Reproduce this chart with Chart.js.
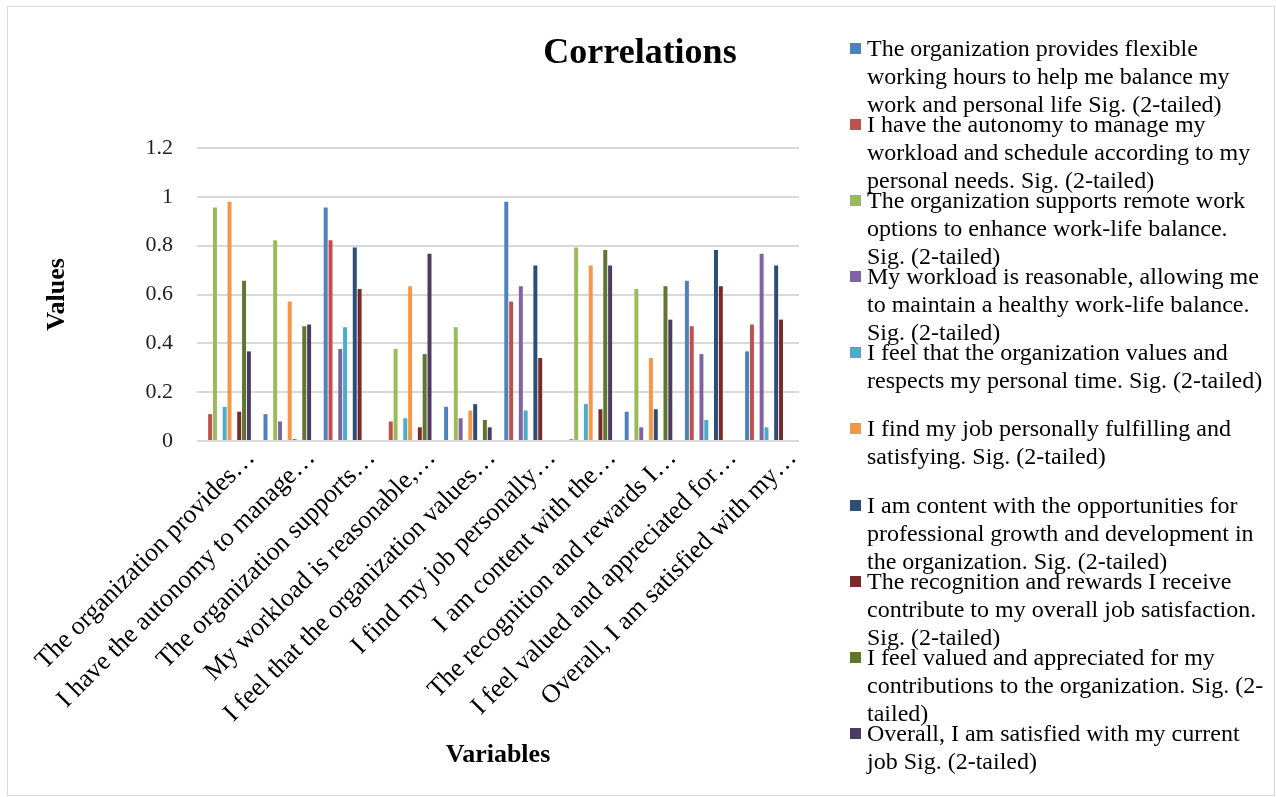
<!DOCTYPE html>
<html>
<head>
<meta charset="utf-8">
<script src="https://cdn.jsdelivr.net/npm/chart.js@4.4.1/dist/chart.umd.min.js"></script>
<style>
  html, body { margin: 0; padding: 0; background: #fff; }
  #wrap { position: relative; width: 1276px; height: 797px; overflow: hidden; }
  #frame { position: absolute; left: 7px; top: 6px; width: 1268px; height: 790px; border: 1px solid #d9d9d9; box-sizing: border-box; pointer-events: none; }
  #chart { position: absolute; left: 0; top: 0; }
  #legend { position: absolute; left: 850px; top: 34px; font-family: "Liberation Serif", "Times New Roman", serif; font-size: 24px; line-height: 28px; color: #000; }
  .item { position: relative; height: 76.1px; }
  .mk { position: absolute; left: 0; top: 9px; width: 11px; height: 11px; }
  .tx { position: absolute; left: 17px; top: 0; width: 400px; white-space: normal; }
</style>
</head>
<body>
<div id="wrap">
  <canvas id="chart" width="1276" height="797"></canvas>
  <div id="legend"></div>
  <div id="frame"></div>
</div>
<script>
// ---- data ----
const categories = [
  "The organization provides\u2026",
  "I have the autonomy to manage\u2026",
  "The organization supports\u2026",
  "My workload is reasonable,\u2026",
  "I feel that the organization values\u2026",
  "I find my job personally\u2026",
  "I am content with the\u2026",
  "The recognition and rewards I\u2026",
  "I feel valued and appreciated for\u2026",
  "Overall, I am satisfied with my\u2026"
];
const seriesNames = [
  "The organization provides flexible working hours to help me balance my work and personal life Sig. (2-tailed)",
  "I have the autonomy to manage my workload and schedule according to my personal needs. Sig. (2-tailed)",
  "The organization supports remote work options to enhance work-life balance. Sig. (2-tailed)",
  "My workload is reasonable, allowing me to maintain a healthy work-life balance. Sig. (2-tailed)",
  "I feel that the organization values and respects my personal time. Sig. (2-tailed)",
  "I find my job personally fulfilling and satisfying. Sig. (2-tailed)",
  "I am content with the opportunities for professional growth and development in the organization. Sig. (2-tailed)",
  "The recognition and rewards I receive contribute to my overall job satisfaction. Sig. (2-tailed)",
  "I feel valued and appreciated for my contributions to the organization. Sig. (2-tailed)",
  "Overall, I am satisfied with my current job Sig. (2-tailed)"
];
const flexibleHours   = [null, 0.110, 0.956, 0.000, 0.140, 0.980, 0.000, 0.120, 0.656, 0.367];
const autonomy        = [0.110, null, 0.822, 0.080, 0.000, 0.571, 0.007, 0.000, 0.470, 0.477];
const remoteWork      = [0.956, 0.822, null, 0.377, 0.466, 0.000, 0.792, 0.623, 0.000, 0.000];
const workload        = [0.000, 0.080, 0.377, null, 0.093, 0.634, 0.000, 0.056, 0.356, 0.767];
const personalTime    = [0.140, 0.000, 0.466, 0.093, null, 0.125, 0.151, 0.000, 0.086, 0.056];
const fulfilling      = [0.980, 0.571, 0.000, 0.634, 0.125, null, 0.719, 0.340, 0.000, 0.000];
const growth          = [0.000, 0.007, 0.792, 0.000, 0.151, 0.719, null, 0.130, 0.782, 0.719];
const recognition     = [0.120, 0.000, 0.623, 0.056, 0.000, 0.340, 0.130, null, 0.634, 0.497];
const valued          = [0.656, 0.470, 0.000, 0.356, 0.086, 0.000, 0.782, 0.634, null, 0.000];
const overall         = [0.367, 0.477, 0.000, 0.767, 0.056, 0.000, 0.719, 0.497, 0.000, null];
const yTickLabels = ["0", "0.2", "0.4", "0.6", "0.8", "1", "1.2"];
const seriesColors = ["#4F81BD", "#C0504D", "#9BBB59", "#8064A2", "#4BACC6", "#F79646", "#2C4D75", "#772C2A", "#5F7530", "#4D3B62"];
const chartTitle = "Correlations";
const xTitle = "Variables";
const yTitle = "Values";

const seriesValues = [flexibleHours, autonomy, remoteWork, workload, personalTime, fulfilling, growth, recognition, valued, overall];

const SERIF = '"Liberation Serif", "Times New Roman", serif';

const centerTitle = {
  id: 'centerTitle',
  afterDraw(chart) {
    const ctx = chart.ctx;
    ctx.save();
    ctx.font = 'bold 36px ' + SERIF;
    ctx.fillStyle = '#000';
    ctx.textAlign = 'center';
    ctx.textBaseline = 'middle';
    ctx.fillText(chartTitle, 640, 54);
    ctx.restore();
  }
};

new Chart(document.getElementById('chart'), {
  type: 'bar',
  data: {
    labels: categories,
    datasets: seriesValues.map((vals, i) => ({
      label: seriesNames[i],
      data: vals,
      backgroundColor: seriesColors[i],
      borderWidth: 0,
      categoryPercentage: 0.805,
      barPercentage: 0.82
    }))
  },
  options: {
    responsive: false,
    animation: false,
    layout: { padding: { left: 0, top: 148, right: 477, bottom: 0 } },
    plugins: { legend: { display: false }, title: { display: false }, tooltip: { enabled: false } },
    scales: {
      x: {
        grid: { display: false, drawTicks: false },
        border: { display: false },
        ticks: {
          autoSkip: false, minRotation: 45, maxRotation: 45,
          padding: 2, labelOffset: 24,
          color: '#000',
          font: { family: SERIF, size: 26 }
        },
        title: { display: true, text: xTitle, color: '#000', font: { family: SERIF, size: 26, weight: 'bold' }, padding: { top: 0, bottom: 26 } },
        afterFit(scale) { scale.height = 356; }
      },
      y: {
        min: 0, max: 1.2,
        grid: { color: '#d9d9d9', lineWidth: 2, drawTicks: false },
        border: { display: false },
        ticks: {
          stepSize: 0.2, padding: 24, color: '#222',
          font: { family: SERIF, size: 22 },
          callback: (v, i) => yTickLabels[i]
        },
        title: { display: true, text: yTitle, color: '#000', font: { family: SERIF, size: 26, weight: 'bold' }, padding: { top: 42, bottom: 0 } },
        afterFit(scale) { scale.width = 197; }
      }
    }
  },
  plugins: [centerTitle]
});

// HTML legend (wrapped text as in the reference)
const lg = document.getElementById('legend');
seriesNames.forEach((name, i) => {
  const it = document.createElement('div');
  it.className = 'item';
  const mk = document.createElement('div');
  mk.className = 'mk';
  mk.style.background = seriesColors[i];
  const tx = document.createElement('div');
  tx.className = 'tx';
  tx.textContent = name;
  it.appendChild(mk); it.appendChild(tx);
  lg.appendChild(it);
});
</script>
</body>
</html>
